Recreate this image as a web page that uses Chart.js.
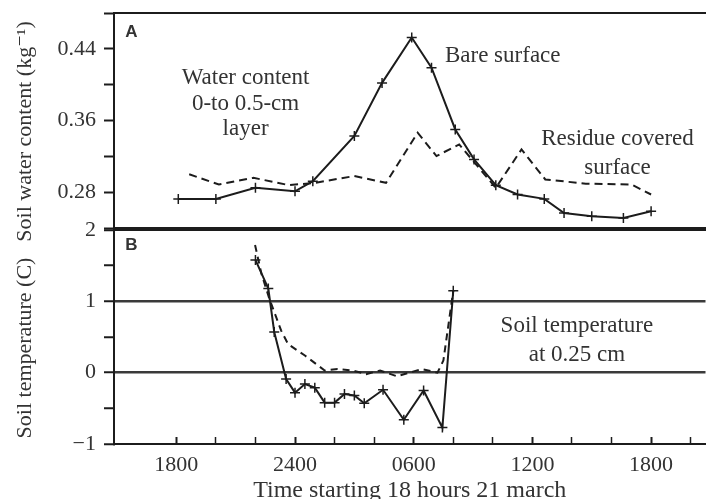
<!DOCTYPE html>
<html>
<head>
<meta charset="utf-8">
<script src="https://cdn.jsdelivr.net/npm/chart.js@4.4.1/dist/chart.umd.min.js"></script>
<style>
  html, body { margin: 0; padding: 0; background: #fff; }
  #wrap { position: relative; width: 712px; height: 499px; overflow: hidden; }
  #panelA { position: absolute; left: 0; top: 0; }
  #panelB { position: absolute; left: 0; top: 200px; }
</style>
</head>
<body>
<div id="wrap">
  <canvas id="panelA" width="712" height="260"></canvas>
  <canvas id="panelB" width="712" height="299"></canvas>
</div>
<script>
// time axis: hours after 1800 on 21 march
const hourTicks = [0, 2, 4, 6, 8, 10, 12, 14, 16, 18, 20, 22, 24, 26];
const hourTickLabels = ['1800', '', '', '2400', '', '', '0600', '', '', '1200', '', '', '1800', ''];

// panel A - soil water content
const waterBareHours = [0.1, 2, 4, 6, 6.9, 9, 10.4, 11.9, 12.9, 14.1, 15.05, 16.15, 17.25, 18.6, 19.6, 21, 22.6, 24];
const waterBare = [0.2725, 0.2725, 0.2848, 0.281, 0.2923, 0.3427, 0.402, 0.4527, 0.419, 0.350, 0.3166, 0.2878, 0.2774, 0.2725, 0.2568, 0.2531, 0.2512, 0.2587];
const waterResidueHours = [0.65, 2.15, 3.9, 5.7, 7, 9, 10.6, 12.2, 13.15, 14.3, 16.15, 17.45, 18.65, 20.7, 23, 24];
const waterResidue = [0.300, 0.2886, 0.296, 0.2878, 0.2904, 0.298, 0.2904, 0.3464, 0.3203, 0.3333, 0.2848, 0.3277, 0.2942, 0.2895, 0.2886, 0.2774];
const waterTicks = [0.24, 0.28, 0.32, 0.36, 0.40, 0.44, 0.48];
const waterTickLabels = ['', '0.28', '', '0.36', '', '0.44', ''];

// panel B - soil temperature at 0.25 cm
const tempBareHours = [4, 4.65, 4.95, 5.55, 6, 6.5, 7, 7.5, 8, 8.5, 9, 9.5, 10.45, 11.5, 12.5, 13.45, 14];
const tempBare = [1.58, 1.18, 0.57, -0.09, -0.28, -0.16, -0.21, -0.42, -0.42, -0.30, -0.32, -0.43, -0.24, -0.66, -0.25, -0.77, 1.15];
const tempResidueHours = [3.98, 4.3, 4.7, 5.3, 5.65, 6.5, 7.5, 8.15, 8.9, 9.6, 10.3, 11.15, 12.4, 13.2, 13.5, 14];
const tempResidue = [1.79, 1.39, 1.04, 0.59, 0.40, 0.24, 0.03, 0.05, 0.03, -0.02, 0.03, -0.05, 0.05, 0.0, 0.17, 1.15];
const tempTicks = [-1, -0.5, 0, 0.5, 1, 1.5, 2];
const tempTickLabels = ['\u22121', '', '0', '', '1', '', '2'];

const X_MIN = -3.15, X_MAX = 26.75;
const ink = '#1c1c1c';
const textInk = '#333';
const serif = 'Liberation Serif, DejaVu Serif, serif';
const pad = '\u00a0\u00a0\u00a0\u00a0';

function toPoints(xs, ys) {
    return xs.map((x, i) => ({ x: x, y: ys[i] }));
}

// plugin that writes the text notes at data coordinates
function notesPlugin(items) {
    return {
        id: 'notes',
        afterDatasetsDraw(chart) {
            const ctx = chart.ctx;
            const xs = chart.scales.x, ys = chart.scales.y;
            ctx.save();
            ctx.textAlign = 'center';
            ctx.textBaseline = 'middle';
            items.forEach(n => {
                ctx.font = n.font;
                ctx.fillStyle = textInk;
                ctx.fillText(n.text, xs.getPixelForValue(n.x), ys.getPixelForValue(n.y));
            });
            ctx.restore();
        }
    };
}

const noteFont = '23px ' + serif;
const letterFont = 'bold 17px Liberation Sans, Arial, sans-serif';

const notesA = [
    { text: 'A', x: -2.27, y: 0.459, font: letterFont },
    { text: 'Water content', x: 3.5, y: 0.4076, font: noteFont },
    { text: '0-to 0.5-cm', x: 3.5, y: 0.3785, font: noteFont },
    { text: 'layer', x: 3.5, y: 0.3505, font: noteFont },
    { text: 'Bare surface', x: 16.5, y: 0.4322, font: noteFont },
    { text: 'Residue covered', x: 22.3, y: 0.3393, font: noteFont },
    { text: 'surface', x: 22.3, y: 0.3068, font: noteFont }
];
const notesB = [
    { text: 'B', x: -2.27, y: 1.789, font: letterFont },
    { text: 'Soil temperature', x: 20.25, y: 0.648, font: noteFont },
    { text: 'at 0.25 cm', x: 20.25, y: 0.254, font: noteFont }
];

// the top border of each panel
function topBorder() {
    return {
        axis: 'x', type: 'linear', position: 'top', min: X_MIN, max: X_MAX,
        ticks: { display: false },
        grid: { display: false, drawTicks: false },
        border: { display: true, color: ink, width: 2 },
        afterFit: s => { s.height = 0; s.paddingLeft = 0; s.paddingRight = 0; }
    };
}

function yAxis(min, max, tickValues, tickLabels, title) {
    return {
        type: 'linear', position: 'left', min: min, max: max,
        afterBuildTicks: s => { s.ticks = tickValues.map(v => ({ value: v })); },
        ticks: {
            callback: (v, i) => tickLabels[i],
            font: { family: serif, size: 22 },
            color: textInk,
            padding: 8
        },
        border: { display: true, color: ink, width: 2 },
        title: {
            display: true, text: title,
            font: { family: serif, size: 22 },
            color: textInk,
            padding: { top: 12, bottom: 0 }
        },
        afterFit: s => { s.width = 114; s.paddingTop = 0; s.paddingBottom = 0; }
    };
}

Chart.defaults.animation = false;

// panel A
const yA = yAxis(0.24, 0.48, waterTicks, waterTickLabels, 'Soil water content (kg\u207B\u00B9)' + pad);
yA.grid = { drawOnChartArea: false, tickLength: 10, tickColor: ink, tickWidth: 2 };

new Chart(document.getElementById('panelA').getContext('2d'), {
    type: 'line',
    data: {
        datasets: [
            {
                label: 'Bare surface',
                data: toPoints(waterBareHours, waterBare),
                borderColor: ink, borderWidth: 2, tension: 0,
                pointStyle: 'cross', pointRadius: 5, pointBorderWidth: 1.5,
                pointBorderColor: ink, pointBackgroundColor: ink
            },
            {
                label: 'Residue covered surface',
                data: toPoints(waterResidueHours, waterResidue),
                borderColor: ink, borderWidth: 2, borderDash: [8, 5], tension: 0,
                pointRadius: 0
            }
        ]
    },
    options: {
        responsive: false,
        devicePixelRatio: 1,
        layout: { padding: { top: 13, right: 0, bottom: 30, left: 0 } },
        plugins: { legend: { display: false }, tooltip: { enabled: false } },
        scales: {
            x: {
                type: 'linear', position: 'bottom', min: X_MIN, max: X_MAX,
                ticks: { display: false },
                grid: { display: false, drawTicks: false },
                border: { display: true, color: ink, width: 2 },
                afterFit: s => { s.height = 2; s.paddingLeft = 0; s.paddingRight = 0; }
            },
            xTop: topBorder(),
            y: yA
        }
    },
    plugins: [notesPlugin(notesA)]
});

// panel B
const yB = yAxis(-1, 2, tempTicks, tempTickLabels, 'Soil temperature (C)' + pad);
yB.grid = {
    drawOnChartArea: true,
    color: c => (c.tick && (c.tick.value === 0 || c.tick.value === 1)) ? '#3a3a3a' : 'rgba(0,0,0,0)',
    lineWidth: 2.5,
    tickLength: 10, tickColor: ink, tickWidth: 2
};

new Chart(document.getElementById('panelB').getContext('2d'), {
    type: 'line',
    data: {
        datasets: [
            {
                label: 'Bare surface',
                data: toPoints(tempBareHours, tempBare),
                borderColor: ink, borderWidth: 2, tension: 0,
                pointStyle: 'cross', pointRadius: 5, pointBorderWidth: 1.5,
                pointBorderColor: ink, pointBackgroundColor: ink
            },
            {
                label: 'Residue covered surface',
                data: toPoints(tempResidueHours, tempResidue),
                borderColor: ink, borderWidth: 2, borderDash: [7, 5], tension: 0,
                pointRadius: 0
            }
        ]
    },
    options: {
        responsive: false,
        devicePixelRatio: 1,
        layout: { padding: { top: 30, right: 0, bottom: 0, left: 0 } },
        plugins: { legend: { display: false }, tooltip: { enabled: false } },
        scales: {
            x: {
                type: 'linear', position: 'bottom', min: X_MIN, max: X_MAX,
                afterBuildTicks: s => { s.ticks = hourTicks.map(v => ({ value: v })); },
                ticks: {
                    autoSkip: false, maxRotation: 0,
                    callback: (v, i) => hourTickLabels[i],
                    font: { family: serif, size: 22 },
                    color: textInk,
                    padding: 15
                },
                grid: {
                    drawOnChartArea: false, drawTicks: true,
                    tickLength: -7, tickColor: ink,
                    tickWidth: c => (hourTickLabels[c.index] ? 2 : 1.5)
                },
                border: { display: true, color: ink, width: 2 },
                title: {
                    display: true, text: 'Time starting 18 hours 21 march',
                    font: { family: serif, size: 24, lineHeight: 0.7 },
                    color: textInk,
                    padding: 0
                },
                afterFit: s => { s.height = 55; s.paddingLeft = 0; s.paddingRight = 0; }
            },
            xTop: topBorder(),
            y: yB
        }
    },
    plugins: [notesPlugin(notesB)]
});
</script>
</body>
</html>
